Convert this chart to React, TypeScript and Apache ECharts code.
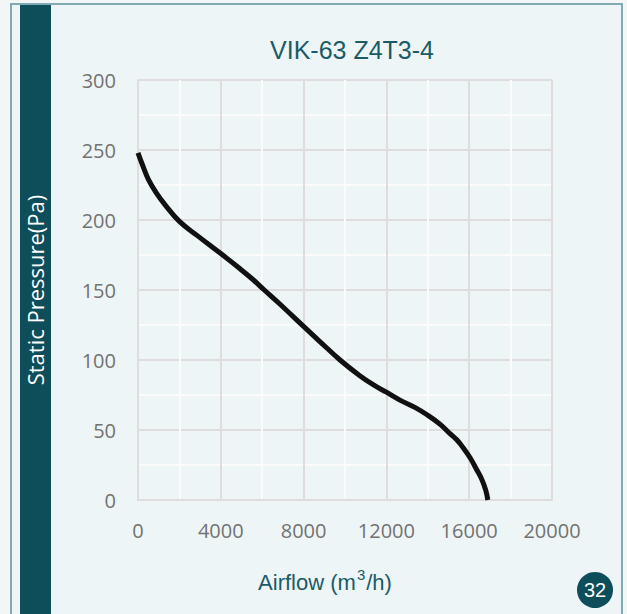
import React, { useEffect, useRef } from "react";
import * as echarts from "echarts";

const title = "VIK-63 Z4T3-4";
const yAxisTitle = "Static Pressure(Pa)";
const pageNumber = "32";
const airflow = [0, 200, 500, 900, 1300, 2000, 2850, 4000, 4900, 5550, 6100, 6850, 8000, 8800, 9760, 10700, 11400, 12000, 12700, 13400, 14000, 14600, 15100, 15400, 15700, 16050, 16350, 16600, 16800, 16900];
const pressure = [248, 240, 229, 219, 211, 199, 189, 176, 165.5, 157.5, 150, 140, 124, 113, 100, 89, 82, 77, 71, 66, 60.5, 54, 47, 43, 37.5, 30, 22, 15, 7, 0];
const xTicks = [0, 4000, 8000, 12000, 16000, 20000];
const yTicks = [0, 50, 100, 150, 200, 250, 300];

const TEAL = "#0e4d5a";
const TITLE_COLOR = "#1b5b68";
const LABEL_COLOR = "#727272";

export default function App() {
  const ref = useRef<HTMLDivElement>(null);
  useEffect(() => {
    if (!ref.current) return;
    const chart = echarts.init(ref.current, null, { renderer: "svg" });
    const data = airflow.map((x, i) => [x, pressure[i]]);
    chart.setOption({
      animation: false,
      backgroundColor: "#f2f6f7",
      grid: { left: 138, right: 75, top: 80, bottom: 114 },
      xAxis: {
        type: "value",
        min: xTicks[0],
        max: xTicks[xTicks.length - 1],
        interval: 4000,
        axisLine: { show: true, lineStyle: { color: "#dedcdd", width: 2 } },
        axisTick: { show: false },
        axisLabel: {
          color: LABEL_COLOR,
          fontSize: 20,
          fontFamily: "Open Sans",
          margin: 20,
          formatter: (v: number) => String(v),
        },
        splitLine: { show: true, lineStyle: { color: "#dedcdd", width: 2 } },
        minorTick: { show: false, splitNumber: 2 },
        minorSplitLine: { show: true, lineStyle: { color: "#fbfbfb", width: 2 } },
      },
      yAxis: {
        type: "value",
        min: yTicks[0],
        max: yTicks[yTicks.length - 1],
        interval: 50,
        axisLine: { show: true, lineStyle: { color: "#dedcdd", width: 2 } },
        axisTick: { show: false },
        axisLabel: {
          color: LABEL_COLOR,
          fontSize: 20,
          fontFamily: "Open Sans",
          margin: 22,
          formatter: (v: number) => String(v),
        },
        splitLine: { show: true, lineStyle: { color: "#dedcdd", width: 2 } },
        minorTick: { show: false, splitNumber: 2 },
        minorSplitLine: { show: true, lineStyle: { color: "#fbfbfb", width: 2 } },
      },
      series: [
        {
          type: "line",
          data,
          smooth: 0.4,
          symbol: "none",
          lineStyle: { color: "#111111", width: 5 },
          z: 5,
        },
      ],
      graphic: [
        {
          type: "rect",
          z: -10,
          shape: { x: 11, y: 4, width: 611, height: 640 },
          style: { fill: "#eef5f6", stroke: "#82aab4", lineWidth: 2 },
          silent: true,
        },
        {
          type: "rect",
          z: -5,
          shape: { x: 20, y: 5, width: 31, height: 620 },
          style: { fill: TEAL },
          silent: true,
        },
        {
          type: "text",
          x: 35,
          y: 290,
          rotation: Math.PI / 2,
          style: {
            text: yAxisTitle,
            fill: "#ffffff",
            fontSize: 22,
            fontFamily: "Open Sans",
            align: "center",
            verticalAlign: "middle",
          },
        },
        {
          type: "text",
          x: 352,
          y: 50,
          style: {
            text: title,
            fill: TITLE_COLOR,
            fontSize: 25,
            fontFamily: "Liberation Sans",
            align: "center",
            verticalAlign: "middle",
          },
        },
        {
          type: "text",
          x: 325,
          y: 580,
          style: {
            text: "{n|Airflow (m}{s|3}{n|/h)}",
            align: "center",
            verticalAlign: "middle",
            rich: {
              n: { fill: TITLE_COLOR, fontSize: 22, fontFamily: "Liberation Sans", lineHeight: 26, verticalAlign: "bottom" },
              s: { fill: TITLE_COLOR, fontSize: 15, fontFamily: "Liberation Sans", lineHeight: 26, verticalAlign: "top", padding: [0, 1, 8, 1] },
            },
          },
        },
        {
          type: "circle",
          shape: { cx: 595, cy: 590, r: 18 },
          style: { fill: TEAL },
        },
        {
          type: "text",
          x: 595,
          y: 590,
          style: {
            text: pageNumber,
            fill: "#ffffff",
            fontSize: 20,
            fontFamily: "Liberation Sans",
            align: "center",
            verticalAlign: "middle",
          },
        },
      ],
    });
    return () => chart.dispose();
  }, []);
  return (
    <div
      ref={ref}
      style={{ position: "fixed", left: 0, top: 0, width: 627, height: 614 }}
    />
  );
}
